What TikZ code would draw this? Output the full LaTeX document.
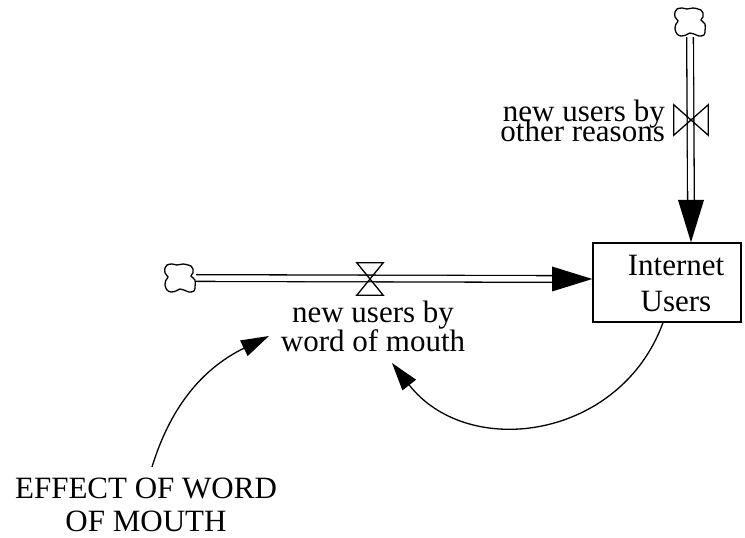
\documentclass[tikz,border=0pt]{standalone}
\usepackage{fontspec}
\setmainfont{Liberation Serif}
\usetikzlibrary{arrows.meta,calc}
\lineskiplimit=-100pt
\begin{document}
\begin{tikzpicture}[x=1pt,y=1pt,
  lbl/.style={inner sep=0pt, align=center},
  pipe/.style={draw, double, double distance=5.4pt, line width=1.3pt},
  link/.style={draw, line width=1.3pt, -{Triangle[length=28pt,width=17pt]}},
  valve/.style={minimum width=26pt, minimum height=32pt, inner sep=0pt},
  cloudspot/.style={minimum width=32pt, minimum height=30pt, inner sep=0pt},
  stock/.style={draw, line width=1.3pt, minimum width=148pt, minimum height=79pt, inner sep=0pt},
  blob/.style={line width=1.3pt, fill=white},
  valveline/.style={line width=1.3pt},
]
\useasboundingbox (0,0) rectangle (745,538);
% nodes
\node[cloudspot] (cl) at (180,260) {};
\node[cloudspot] (ct) at (690,516) {};
\node[valve] (vw) at (370,259) {};
\node[valve, minimum width=34pt, minimum height=30pt] (vo) at (691,418) {};
\node[stock] (iu) at (667,255.5) {};
\node[lbl, anchor=base, font=\fontsize{31}{36}\selectfont] (iut) at (676,226) {Internet\\Users};
\node[lbl, anchor=base east, align=right, font=\fontsize{31}{20.5}\selectfont] (vol) at (665,396) {new users by\\other reasons};
\node[lbl, anchor=base, font=\fontsize{31}{29}\selectfont] (vwl) at (373,186) {new users by\\word of mouth};
\node[lbl, anchor=base, font=\fontsize{31}{33}\selectfont] (eff) at (146,6) {EFFECT OF WORD\\OF MOUTH};
% pipes
\coordinate (hb) at (552,259);
\coordinate (vb) at (691,338);
\draw[pipe] (cl.east) -- (hb);
\draw[pipe] (ct.south) -- (vb);
\fill ($(hb)+(0,12.5)$) -- (hb -| iu.west) -- ($(hb)+(0,-12.5)$) -- cycle;
\fill ($(vb)+(-13,0)$) -- (vb |- iu.north) -- ($(vb)+(13,0)$) -- cycle;
% clouds
\foreach \c in {cl,ct}{
  \draw[blob, shift={(\c)}] plot[smooth cycle, tension=0.6] coordinates {
    (-13,13) (-8,14) (-3,13) (3,14) (8,13) (11,12)
    (13,9) (13,5) (11,2) (15,-2) (15,-9) (14,-13)
    (9,-14) (4,-12) (0,-11) (-4,-13) (-9,-14) (-13,-12)
    (-15,-7) (-14,-2) (-12,1) (-15,5) (-15,10)};
}
% valves
\draw[valveline] (vw.north west) -- (vw.north east) -- (vw.south west) -- (vw.south east) -- cycle;
\draw[valveline] (vo.north west) -- (vo.south west) -- (vo.north east) -- (vo.south east) -- cycle;
% links
\coordinate (e1) at (392,175);
\draw[link] ([xshift=-4pt]iu.south) to[out=-110,in=-52,looseness=1.16] (e1);
\coordinate (s2) at (152,71);
\coordinate (e2) at (269,202);
\draw[link] (s2) to[out=73,in=206] (e2);
\end{tikzpicture}
\end{document}
